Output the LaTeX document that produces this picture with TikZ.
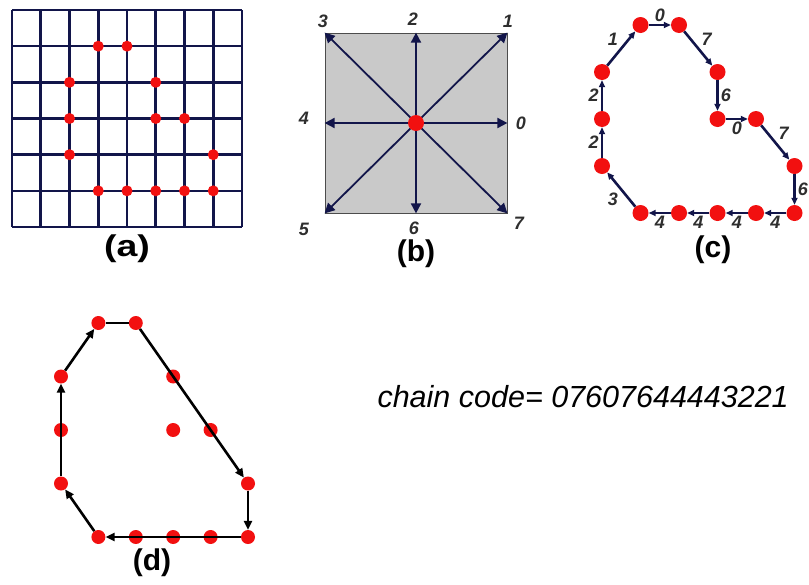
\documentclass[tikz,border=0pt]{standalone}
\usepackage{fontspec}
\setmainfont{Liberation Sans}
\usepackage{xcolor}
\usepackage{tikz}
\usetikzlibrary{arrows,arrows.meta,positioning,calc}
\definecolor{gridnavy}{HTML}{12154A}
\definecolor{dotred}{HTML}{F21010}
\definecolor{boxgray}{HTML}{C9C9C9}
\definecolor{codegray}{HTML}{2E2E2E}

\tikzset{
  pixdot/.style={circle, fill=dotred, inner sep=0pt, minimum size=#1},
  gridline/.style={gridnavy, line width=2.6pt},
  dirarrow/.style={gridnavy, line width=1.8pt, -{Triangle[length=10pt,width=10pt]}},
  chainarrow/.style={gridnavy, line width=2.6pt, -{Triangle[length=7pt,width=6pt]}},
  hullline/.style={black, line width=2.6pt},
  hullarrow/.style={hullline, -{Triangle[length=9pt,width=8pt]}},
  codelbl/.style={text=codegray, font=\bfseries\itshape\fontsize{18}{18}\selectfont, inner sep=2pt},
  panellbl/.style={font=\bfseries\fontsize{30}{30}\selectfont}
}

\begin{document}
\begin{tikzpicture}[x=1pt,y=-1pt]
\useasboundingbox (0,0) rectangle (809,584);

% (a) pixel grid
\foreach \i in {0,...,8}
  \draw[gridline] ({12+28.75*\i},10) -- ({12+28.75*\i},227);
\foreach \j in {0,...,6}
  \draw[gridline] (12,{10+36.17*\j}) -- (242,{10+36.17*\j});
\foreach \c/\r in {3/1,4/1,2/2,5/2,2/3,5/3,6/3,2/4,7/4,3/5,4/5,5/5,6/5,7/5}
  \node[pixdot=11pt] (a-\c-\r) at ({12+28.75*\c},{10+36.17*\r}) {};
\node[panellbl, transform shape, xscale=1.25] (lbl-a) at (127,249) {(a)};

% (b) the eight directions
\node[draw=gray!60!black, line width=0.8pt, fill=boxgray, minimum width=182pt, minimum height=180pt, inner sep=0pt] (box) at (416,123) {};
\coordinate (o) at (box.center);
\foreach \a in {east,north east,north,north west,west,south west,south,south east}
  \draw[dirarrow] (o) -- (box.\a);
\node[pixdot=16pt] (ctr) at (o) {};
\node[codelbl] (dir0) at (521,123) {0};
\node[codelbl] (dir1) at (508,21) {1};
\node[codelbl] (dir2) at (413,19) {2};
\node[codelbl] (dir3) at (323,21) {3};
\node[codelbl] (dir4) at (304,118) {4};
\node[codelbl] (dir5) at (304,229) {5};
\node[codelbl] (dir6) at (414,228) {6};
\node[codelbl] (dir7) at (519,223) {7};
\node[panellbl] (lbl-b) at (416,254) {(b)};

% (c) boundary with codes
\foreach \c/\r [count=\k from 0] in {3/1,4/1,5/2,5/3,6/3,7/4,7/5,6/5,5/5,4/5,3/5,2/4,2/3,2/2}
  \node[pixdot=16pt] (c\k) at ({602+38.5*(\c-2)},{25+47*(\r-1)}) {};
\foreach \k/\n/\lab/\side in {0/1/0/above, 1/2/7/above right, 2/3/6/right, 3/4/0/below,
    4/5/7/above right, 5/6/6/right, 6/7/4/below, 7/8/4/below, 8/9/4/below, 9/10/4/below,
    10/11/3/below left, 11/12/2/left, 12/13/2/left, 13/0/1/above left}
  \draw[chainarrow] (c\k) -- node[codelbl, \side] {\lab} (c\n);
\node[panellbl] (lbl-c) at (713,250) {(c)};

% (d) hull of the boundary
\foreach \c/\r in {3/1,4/1,2/2,5/2,2/3,5/3,6/3,2/4,7/4,3/5,4/5,5/5,6/5,7/5}
  \node[pixdot=14pt] (d-\c-\r) at ({61+37.4*(\c-2)},{323+53.5*(\r-1)}) {};
\draw[hullline] (d-3-1) -- (d-4-1);
\draw[hullarrow] (d-4-1) -- (d-7-4);
\draw[hullarrow] (d-7-4) -- (d-7-5);
\draw[hullarrow] (d-7-5) -- (d-3-5);
\draw[hullarrow] (d-3-5) -- (d-2-4);
\draw[hullarrow] (d-2-4) -- (d-2-2);
\draw[hullarrow] (d-2-2) -- (d-3-1);
\node[panellbl] (lbl-d) at (152,563) {(d)};

\node[anchor=west, font=\itshape\fontsize{30.5}{32}\selectfont] (chain) at (374,397) {chain code= 07607644443221};
\end{tikzpicture}
\end{document}
